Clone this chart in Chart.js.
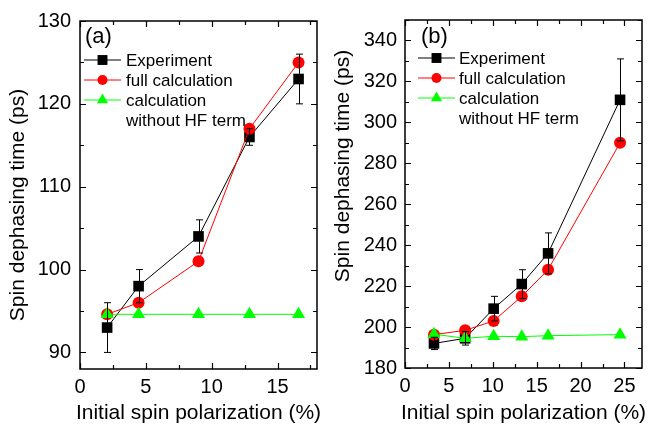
<!DOCTYPE html>
<html>
<head>
<meta charset="utf-8">
<script src="https://cdn.jsdelivr.net/npm/chart.js@4.4.1/dist/chart.umd.min.js"></script>
<style>
  html,body{margin:0;padding:0;background:#fff;}
  #wrap{position:relative;width:649px;height:430px;overflow:hidden;}
  .box{position:absolute;top:0;height:430px;}
</style>
</head>
<body>
<div id="wrap">
  <div class="box" id="boxA" style="left:0;width:330px;"><canvas id="cA"></canvas></div>
  <div class="box" id="boxB" style="left:330px;width:319px;"><canvas id="cB"></canvas></div>
</div>
<script>
// ---------- Panel (a) data ----------
const xA      = [2.06, 4.45, 9.0, 12.87, 16.6];
const expA    = [93, 98, 104, 116, 123];
const expErrA = [3, 2, 2, 1, 3];
const fullA   = [94.6, 96, 101, 117, 125];
const noHfA   = [94.6, 94.6, 94.6, 94.6, 94.6];
const xTicksA = [0, 5, 10, 15];
const yTicksA = [90, 100, 110, 120, 130];

// ---------- Panel (b) data ----------
const xB      = [3.3, 6.85, 10.1, 13.3, 16.3, 24.5];
const expB    = [192, 194.5, 209, 221, 236, 311];
const expErrB = [3, 3.3, 6, 7, 10, 20];
const fullB   = [196.3, 198.4, 203, 215, 228, 290];
const noHfB   = [196.5, 194.5, 195.5, 195.3, 195.8, 196.3];
const xTicksB = [0, 5, 10, 15, 20, 25];
const yTicksB = [180, 200, 220, 240, 260, 280, 300, 320, 340];

const legendLabels = ['Experiment', 'full calculation', ['calculation', 'without HF term']];
const xTitle = 'Initial spin polarization (%)';
const yTitle = 'Spin dephasing time (ps)';

const FONT = '"Liberation Sans", Arial, Helvetica, sans-serif';
const TICK_SIZE = 20, TITLE_SIZE = 21, LEGEND_SIZE = 17, PANEL_SIZE = 22;

function pts(xs, ys){ return xs.map((x,i)=>({x:x, y:ys[i]})); }

function minorList(majors){
  const out = [];
  for (let i=0;i<majors.length-1;i++) out.push((majors[i]+majors[i+1])/2);
  const step = majors[1]-majors[0];
  out.push(majors[majors.length-1]+step/2);
  out.unshift(majors[0]-step/2);
  return out;
}

function drawMarker(ctx, style, x, y, r, color){
  ctx.save();
  ctx.fillStyle = color;
  ctx.beginPath();
  if (style === 'rect'){
    const s = Math.SQRT1_2*r;
    ctx.rect(x-s, y-s, 2*s, 2*s);
  } else if (style === 'circle'){
    ctx.arc(x, y, r, 0, Math.PI*2);
  } else if (style === 'triangle'){
    for (let k=0;k<3;k++){
      const a = k*2*Math.PI/3;
      const px = x + Math.sin(a)*r, py = y - Math.cos(a)*r;
      if (k===0) ctx.moveTo(px,py); else ctx.lineTo(px,py);
    }
    ctx.closePath();
  }
  ctx.fill();
  ctx.restore();
}

const framePlugin = {
  id: 'framePlugin',
  afterDatasetsDraw(chart, args, opts){
    const ctx = chart.ctx;
    const xs = chart.scales.x, ys = chart.scales.y;
    chart.data.datasets.forEach((ds) => {
      if (!ds.errors) return;
      ctx.save();
      ctx.strokeStyle = ds.borderColor;
      ctx.lineWidth = 1;
      ds.data.forEach((p, i) => {
        const e = ds.errors[i];
        const px = Math.round(xs.getPixelForValue(p.x)) + 0.5;
        const y1 = ys.getPixelForValue(p.y - e), y2 = ys.getPixelForValue(p.y + e);
        ctx.beginPath();
        ctx.moveTo(px, y1); ctx.lineTo(px, y2);
        ctx.moveTo(px-3.5, y1); ctx.lineTo(px+3.5, y1);
        ctx.moveTo(px-3.5, y2); ctx.lineTo(px+3.5, y2);
        ctx.stroke();
      });
      ctx.restore();
    });
  },
  afterDraw(chart, args, opts){
    const ctx = chart.ctx;
    const xs = chart.scales.x, ys = chart.scales.y;
    const a = chart.chartArea;
    ctx.save();
    ctx.strokeStyle = '#000';
    ctx.lineWidth = 1.5;
    ctx.strokeRect(a.left, a.top, a.right-a.left, a.bottom-a.top);
    ctx.lineWidth = 1.2;
    const MAJ = 6, MIN = 4;
    ctx.beginPath();
    const xMaj = opts.xTicks, yMaj = opts.yTicks;
    const doX = (v, len) => {
      if (v < xs.min - 1e-9 || v > xs.max + 1e-9) return;
      const p = Math.round(xs.getPixelForValue(v)) + 0.5;
      ctx.moveTo(p, a.bottom); ctx.lineTo(p, a.bottom - len);
      ctx.moveTo(p, a.top); ctx.lineTo(p, a.top + len);
    };
    const doY = (v, len) => {
      if (v < ys.min - 1e-9 || v > ys.max + 1e-9) return;
      const p = Math.round(ys.getPixelForValue(v)) + 0.5;
      ctx.moveTo(a.left, p); ctx.lineTo(a.left + len, p);
      ctx.moveTo(a.right, p); ctx.lineTo(a.right - len, p);
    };
    xMaj.forEach(v => doX(v, MAJ));
    minorList(xMaj).forEach(v => doX(v, MIN));
    yMaj.forEach(v => doY(v, MAJ));
    minorList(yMaj).forEach(v => doY(v, MIN));
    ctx.stroke();

    // axis titles
    ctx.fillStyle = '#000';
    ctx.font = TITLE_SIZE + 'px ' + FONT;
    ctx.textAlign = 'center';
    ctx.textBaseline = 'middle';
    ctx.fillText(xTitle, (a.left + a.right)/2 + opts.xTitleDx, opts.xTitleY);
    ctx.save();
    ctx.translate(opts.yTitleX, opts.yTitleY);
    ctx.rotate(-Math.PI/2);
    ctx.fillText(yTitle, 0, 0);
    ctx.restore();

    // panel label
    ctx.textAlign = 'left';
    ctx.textBaseline = 'alphabetic';
    ctx.font = PANEL_SIZE + 'px ' + FONT;
    ctx.fillText(opts.panel, opts.panelX, opts.panelY);

    // legend
    ctx.font = LEGEND_SIZE + 'px ' + FONT;
    const L = opts.legend;
    let row = 0;
    chart.data.datasets.slice().sort((p,q)=>q.order-p.order).forEach((ds) => {
      const base = L.y + row*L.dy;
      const cy = base - 6;
      ctx.save();
      ctx.strokeStyle = ds.borderColor;
      ctx.lineWidth = 1;
      ctx.beginPath();
      ctx.moveTo(L.x1, cy); ctx.lineTo(L.x2, cy);
      ctx.stroke();
      ctx.restore();
      drawMarker(ctx, ds.pointStyle, (L.x1+L.x2)/2, cy, ds.legendR, ds.backgroundColor);
      const lbl = ds.label;
      const lines = Array.isArray(lbl) ? lbl : [lbl];
      ctx.fillStyle = '#000';
      lines.forEach((t, k) => {
        ctx.fillText(t, L.tx, base + k*L.dy);
      });
      row += lines.length;
    });
    ctx.restore();
  }
};

function makeChart(id, cfg){
  const datasets = [
    { label: legendLabels[0], data: pts(cfg.x, cfg.exp), errors: cfg.err,
      borderColor: '#000000', backgroundColor: '#000000', pointStyle: 'rect',
      pointRadius: cfg.rSq, pointBorderWidth: 0, borderWidth: 1, order: 2, legendR: 7 },
    { label: legendLabels[1], data: pts(cfg.x, cfg.full),
      borderColor: '#ff0000', backgroundColor: '#ff0000', pointStyle: 'circle',
      pointRadius: cfg.rCi, pointBorderWidth: 0, borderWidth: 1, order: 1, legendR: 5 },
    { label: legendLabels[2], data: pts(cfg.x, cfg.noHf),
      borderColor: '#00ff00', backgroundColor: '#00ff00', pointStyle: 'triangle',
      pointRadius: cfg.rTr, pointBorderWidth: 0, borderWidth: 1, order: 0, legendR: 6.5 }
  ];
  return new Chart(document.getElementById(id), {
    type: 'line',
    data: { datasets },
    options: {
      responsive: true,
      maintainAspectRatio: false,
      animation: false,
      events: [],
      layout: { autoPadding: false, padding: { left: 0, top: cfg.top, right: cfg.padR, bottom: 0 } },
      plugins: {
        legend: { display: false },
        tooltip: { enabled: false },
        framePlugin: cfg.frame
      },
      scales: {
        x: {
          type: 'linear', min: cfg.xmin, max: cfg.xmax,
          grid: { display: false, drawTicks: false },
          border: { display: false },
          ticks: { color: '#000', font: { family: FONT, size: TICK_SIZE }, padding: cfg.xPad, maxRotation: 0, autoSkip: false },
          afterBuildTicks: s => { s.ticks = cfg.xTicks.map(v => ({ value: v })); },
          afterFit: s => { s.height = cfg.xH; }
        },
        y: {
          type: 'linear', min: cfg.ymin, max: cfg.ymax,
          grid: { display: false, drawTicks: false },
          border: { display: false },
          ticks: { color: '#000', font: { family: FONT, size: TICK_SIZE }, padding: cfg.yPad, autoSkip: false },
          afterBuildTicks: s => { s.ticks = cfg.yTicks.map(v => ({ value: v })); },
          afterFit: s => { s.width = cfg.yW; }
        }
      }
    },
    plugins: [framePlugin]
  });
}

makeChart('cA', {
  x: xA, exp: expA, err: expErrA, full: fullA, noHf: noHfA,
  xmin: 0, xmax: 18, ymin: 88, ymax: 130, xTicks: xTicksA, yTicks: yTicksA,
  top: 15, padR: 13, xH: 61, yW: 80, xPad: 6, yPad: 9,
  rSq: 7.5, rCi: 6, rTr: 7.5,
  frame: {
    xTicks: xTicksA, yTicks: yTicksA,
    xTitleDx: 0, xTitleY: 413, yTitleX: 18, yTitleY: 205,
    panel: '(a)', panelX: 85, panelY: 43,
    legend: { x1: 84, x2: 121, tx: 126, y: 66, dy: 20 }
  }
});

makeChart('cB', {
  x: xB, exp: expB, err: expErrB, full: fullB, noHf: noHfB,
  xmin: 0, xmax: 27, ymin: 180, ymax: 350, xTicks: xTicksB, yTicks: yTicksB,
  top: 15, padR: 7, xH: 62, yW: 75, xPad: 6, yPad: 8,
  rSq: 7.5, rCi: 6, rTr: 7.5,
  frame: {
    xTicks: xTicksB, yTicks: yTicksB,
    xTitleDx: 0, xTitleY: 413, yTitleX: 13, yTitleY: 166,
    panel: '(b)', panelX: 91, panelY: 43,
    legend: { x1: 88, x2: 125, tx: 129, y: 64, dy: 20 }
  }
});
</script>
</body>
</html>
